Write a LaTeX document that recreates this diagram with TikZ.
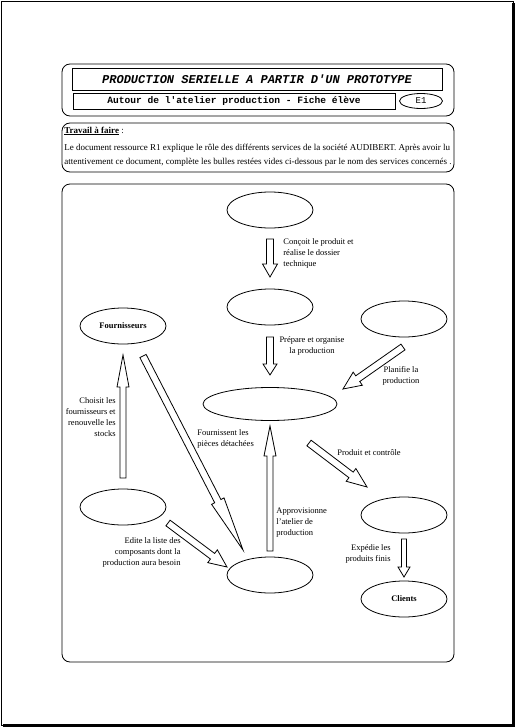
\documentclass[tikz,border=0pt]{standalone}
\usepackage{fontspec}
\setmainfont{Liberation Serif}
\setmonofont{Liberation Mono}
\usetikzlibrary{shapes.geometric,calc}

% fleche creuse : depart, pointe, demi-largeur du corps, demi-largeur de la tete, longueur de la tete
\newcommand{\fleche}[5]{%
  \draw let \p1=($(#2)-(#1)$), \n1={atan2(\y1,\x1)}, \n2={veclen(\x1,\y1)} in
    [shift={(#1)}, rotate=\n1]
    (0,-#3) -- ({\n2-#5},-#3) -- ({\n2-#5},-#4) -- (\n2,0)
    -- ({\n2-#5},#4) -- ({\n2-#5},#3) -- (0,#3) -- cycle;}

\tikzset{
  bulle/.style={draw, ellipse, minimum width=86pt, minimum height=36pt, inner sep=0pt},
  legende/.style={font=\fontsize{8.5}{11}\selectfont, inner sep=0pt},
  consigne/.style={font=\fontsize{9}{11}\selectfont, inner sep=0pt, anchor=west},
  cadre/.style={draw, rounded corners=8pt},
}

\begin{document}
\begin{tikzpicture}[x=1pt, y=-1pt, line width=0.8pt]
    \useasboundingbox (0,0) rectangle (516,728);
    % page
    \draw (1.5,1.5) rectangle (513,725.5);
    \fill (511.5,3) rectangle (515,727);
    \fill (3,724) rectangle (515,727);

    % en-tete
    \draw [cadre] (62,64) rectangle (454,116);
    \node [draw, minimum width=370pt, minimum height=22pt, font=\fontsize{12}{12}\ttfamily\bfseries\itshape] (titre) at (257,79) {PRODUCTION SERIELLE A PARTIR D'UN PROTOTYPE};
    \node [draw, minimum width=322pt, minimum height=16pt, font=\fontsize{9.6}{9.6}\ttfamily\bfseries] (soustitre) at (234,101) {Autour de l'atelier production - Fiche élève};
    \node [draw, ellipse, minimum width=43pt, minimum height=15pt, inner sep=0pt, font=\fontsize{9}{9}\ttfamily] (fiche) at (421,101) {E1};

    % consigne
    \draw [cadre] (62,123) rectangle (454,172);
    \node [consigne] (travail) at (64,131) {\textbf{\underline{Travail à faire}} :};
    \node [consigne] (ligne1) at (64,148) {Le document ressource R1 explique le rôle des différents services de la société AUDIBERT. Après avoir lu};
    \node [consigne] (ligne2) at (64,162) {attentivement ce document, complète les bulles restées vides ci-dessous par le nom des services concernés .};

    % schema
    \draw [cadre] (62,184) rectangle (454,662);
    \node [bulle] (bureau) at (270,210) {};
    \node [bulle] (methodes) at (270,307) {};
    \node [bulle, font=\fontsize{8.5}{10}\selectfont\bfseries] (fourn) at (123,326) {Fournisseurs};
    \node [bulle] (ordo) at (404,319) {};
    \node [bulle, minimum width=134pt, minimum height=33pt] (atelier) at (270,404) {};
    \node [bulle] (achats) at (123,507) {};
    \node [bulle] (qualite) at (404,515) {};
    \node [bulle] (magasin) at (270,575) {};
    \node [bulle, font=\fontsize{8.5}{10}\selectfont\bfseries] (clients) at (404,599) {Clients};

    \coordinate (a1) at (270,239);  \coordinate (b1) at (270,277);
    \coordinate (a2) at (270,337);  \coordinate (b2) at (270,375);
    \coordinate (a3) at (123,478);  \coordinate (b3) at (123,355);
    \coordinate (a4) at (143,356);  \coordinate (b4) at (243,550);
    \coordinate (a5) at (403,347);  \coordinate (b5) at (343,389);
    \coordinate (a6) at (270,551);  \coordinate (b6) at (270,426);
    \coordinate (a7) at (309,443);  \coordinate (b7) at (367,487);
    \coordinate (a8) at (168,523);  \coordinate (b8) at (227,567);
    \coordinate (a9) at (404,539);  \coordinate (b9) at (404,577);
    \fleche{a1}{b1}{3.5}{7.5}{13}
    \fleche{a2}{b2}{3.5}{7}{11}
    \fleche{a3}{b3}{3}{6}{32}
    \fleche{a4}{b4}{3.5}{7}{55}
    \fleche{a5}{b5}{3.5}{8}{18}
    \fleche{a6}{b6}{3}{6}{30}
    \fleche{a7}{b7}{3.5}{8}{20}
    \fleche{a8}{b8}{3.5}{8}{18}
    \fleche{a9}{b9}{2.5}{6}{10}

    \node [legende, anchor=north west, align=left] (l1) at (283,238) {Conçoit le produit et\\réalise le dossier\\technique};
    \node [legende, anchor=north, align=center] (l2) at (312,336) {Prépare et organise\\la production};
    \node [legende, anchor=north, align=center] (l3) at (401,366) {Planifie la\\production};
    \node [legende, anchor=north east, align=right] (l4) at (116,397) {Choisit les\\fournisseurs et\\renouvelle les\\stocks};
    \node [legende, anchor=north west, align=left] (l5) at (197,429) {Fournissent les\\pièces détachées};
    \node [legende, anchor=west] (l6) at (337,453) {Produit et contrôle};
    \node [legende, anchor=north west, align=left] (l7) at (276,507) {Approvisionne\\l'atelier de\\production};
    \node [legende, anchor=north east, align=right] (l8) at (181,537) {Edite la liste des\\composants dont la\\production aura besoin};
    \node [legende, anchor=north east, align=right] (l9) at (391,544) {Expédie les\\produits finis};
\end{tikzpicture}
\end{document}
